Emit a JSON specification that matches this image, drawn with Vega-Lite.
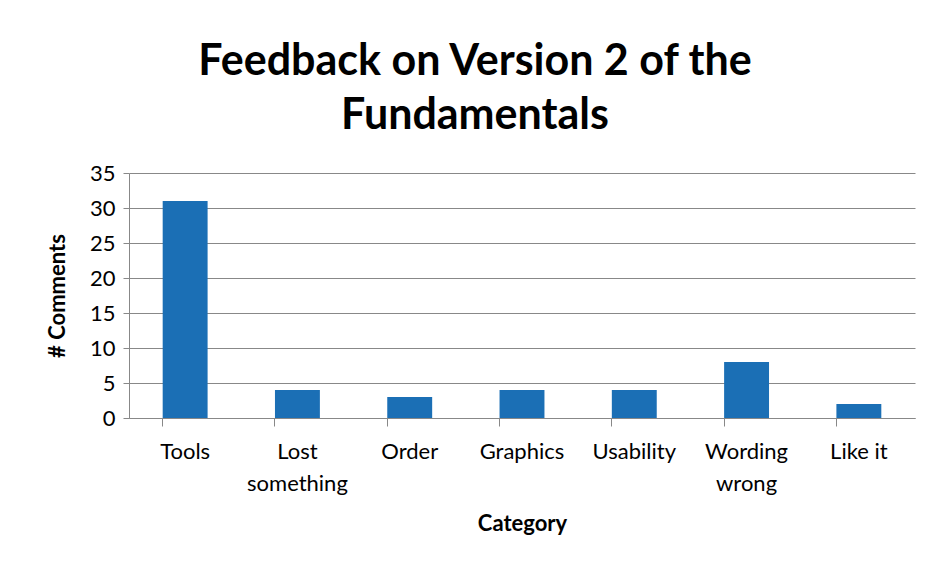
{
  "$schema": "https://vega.github.io/schema/vega-lite/v6.json",
  "width": 786,
  "height": 245,
  "autosize": "none",
  "padding": {"left": 129, "top": 173, "right": 16, "bottom": 149},
  "background": "white",
  "title": {
    "text": ["Feedback on Version 2 of the", "Fundamentals"],
    "font": "Lato",
    "fontSize": 43,
    "fontWeight": "bold",
    "color": "#000000",
    "lineHeight": 54,
    "anchor": "middle",
    "dx": -47,
    "offset": 24
  },
  "data": {
    "values": [
      {"category": "Tools", "comments": 31},
      {"category": "Lost something", "comments": 4},
      {"category": "Order", "comments": 3},
      {"category": "Graphics", "comments": 4},
      {"category": "Usability", "comments": 4},
      {"category": "Wording wrong", "comments": 8},
      {"category": "Like it", "comments": 2}
    ]
  },
  "mark": {"type": "bar", "color": "#1b6fb5"},
  "encoding": {
    "x": {
      "field": "category",
      "type": "nominal",
      "sort": null,
      "scale": {"paddingInner": 0.6, "paddingOuter": 0.3},
      "axis": {
        "title": "Category",
        "titleFont": "Lato",
        "titleFontSize": 22,
        "titleFontWeight": "bold",
        "titleColor": "#000000",
        "titlePadding": 19,
        "labelAngle": 0,
        "labelFont": "Lato",
        "labelFontSize": 22,
        "labelColor": "#000000",
        "labelPadding": 15,
        "labelLineHeight": 32,
        "labelExpr": "datum.label == 'Lost something' ? ['Lost', 'something'] : datum.label == 'Wording wrong' ? ['Wording', 'wrong'] : datum.label",
        "bandPosition": 0,
        "tickColor": "#888888",
        "tickSize": 8,
        "domainColor": "#888888",
        "grid": false
      }
    },
    "y": {
      "field": "comments",
      "type": "quantitative",
      "scale": {"domain": [0, 35]},
      "axis": {
        "title": "# Comments",
        "titleFont": "Lato",
        "titleFontSize": 22,
        "titleFontWeight": "bold",
        "titleColor": "#000000",
        "titlePadding": 20,
        "values": [0, 5, 10, 15, 20, 25, 30, 35],
        "labelFont": "Lato",
        "labelFontSize": 22,
        "labelColor": "#000000",
        "labelPadding": 8,
        "tickColor": "#888888",
        "tickSize": 6,
        "domainColor": "#888888",
        "gridColor": "#888888",
        "gridWidth": 1
      }
    }
  },
  "config": {"view": {"stroke": null}}
}
